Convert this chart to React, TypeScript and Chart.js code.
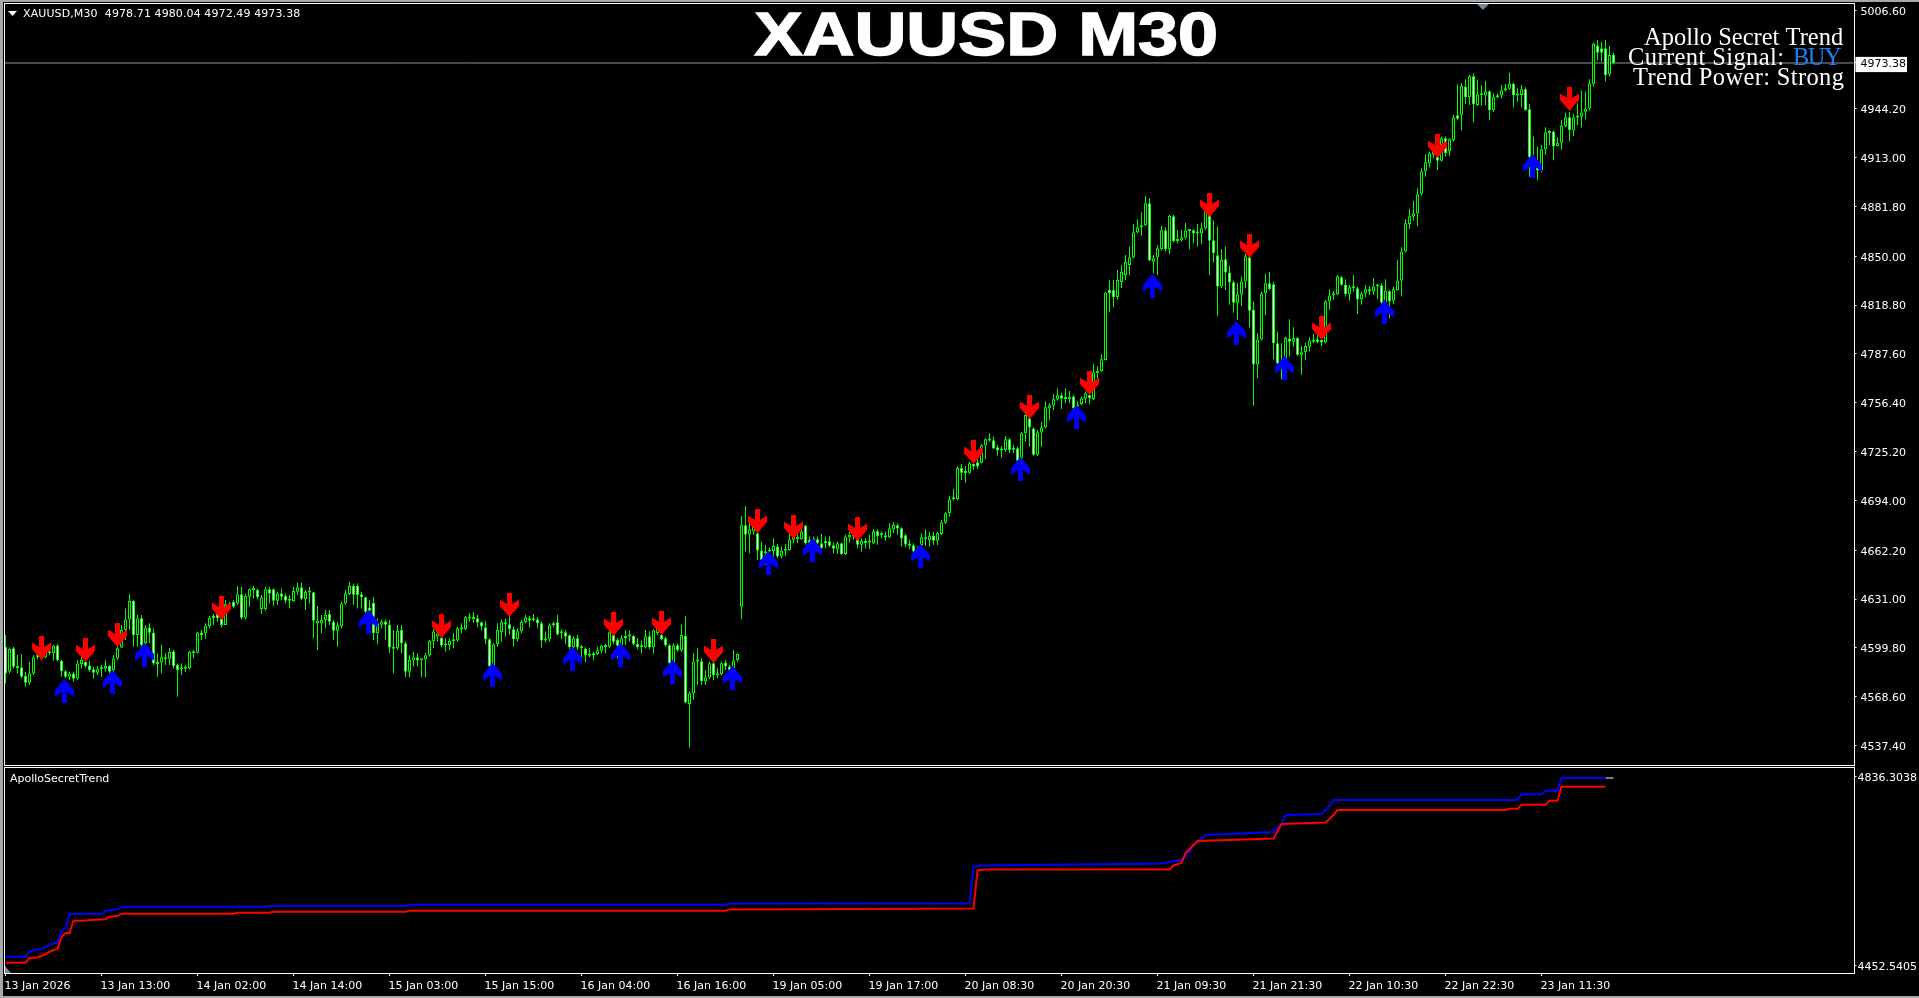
import React, { useEffect, useRef } from "react";
import { Chart, registerables } from "chart.js";

Chart.register(...registerables);

const highs = [
4608.0,4600.1,4600.6,4595.2,4595.9,4584.6,4591.0,4595.2,4596.3,4596.7,
4598.4,4599.5,4601.6,4602.3,4592.1,4585.7,4584.6,4584.6,4592.1,4594.2,
4592.1,4591.6,4587.8,4588.2,4588.9,4592.1,4588.9,4595.2,4601.6,4614.4,
4625.0,4634.2,4630.4,4620.8,4620.8,4614.4,4615.5,4612.3,4596.3,4601.6,
4596.3,4599.5,4598.4,4589.9,4589.9,4588.9,4598.0,4598.4,4610.1,4611.2,
4615.5,4620.2,4621.4,4622.9,4628.2,4630.4,4629.3,4630.4,4639.3,4638.9,
4634.2,4637.8,4639.3,4637.8,4633.6,4638.9,4638.9,4637.8,4635.7,4637.8,
4634.6,4633.6,4638.9,4641.4,4641.4,4636.8,4638.9,4635.7,4626.5,4620.8,
4624.0,4624.0,4617.6,4616.5,4629.3,4636.8,4642.1,4641.0,4641.0,4635.7,
4632.5,4630.4,4632.1,4618.7,4618.0,4618.0,4617.6,4611.2,4614.4,4614.4,
4603.8,4595.2,4597.4,4596.4,4592.5,4596.8,4604.9,4611.7,4611.3,4608.1,
4605.9,4605.9,4609.1,4613.4,4615.5,4620.2,4621.9,4622.8,4620.9,4616.6,
4616.6,4605.9,4602.8,4615.5,4618.1,4618.7,4619.8,4613.4,4612.3,4617.7,
4620.9,4620.2,4621.5,4619.4,4616.6,4610.2,4615.5,4616.6,4620.9,4611.7,
4611.3,4608.3,4607.0,4608.1,4601.7,4600.2,4599.6,4597.4,4600.6,4601.7,
4602.3,4615.5,4615.5,4605.9,4608.1,4611.3,4610.9,4608.1,4605.9,4604.5,
4611.3,4610.2,4611.7,4613.4,4614.5,4607.0,4602.3,4602.8,4602.3,4614.5,
4620.2,4571.9,4596.4,4599.6,4593.2,4585.7,4591.1,4591.1,4586.8,4591.1,
4592.1,4588.9,4598.5,4596.4,4684.1,4690.5,4682.6,4682.0,4674.1,4667.7,
4665.6,4664.1,4669.8,4666.2,4664.5,4666.2,4675.6,4674.1,4675.6,4675.6,
4678.3,4670.9,4670.9,4670.9,4672.6,4670.9,4671.3,4667.1,4667.7,4667.1,
4672.0,4674.1,4675.2,4670.9,4669.8,4669.8,4672.0,4675.6,4675.6,4674.1,
4674.1,4679.4,4680.0,4679.4,4676.9,4672.6,4668.8,4666.6,4664.5,4673.0,
4675.5,4674.0,4674.0,4674.0,4681.5,4686.8,4696.8,4701.3,4715.6,4717.3,
4716.0,4718.8,4719.8,4725.1,4730.0,4733.7,4736.9,4734.7,4729.4,4728.8,
4735.1,4733.7,4729.4,4728.3,4737.9,4750.7,4747.5,4740.7,4739.0,4744.3,
4757.1,4756.0,4762.0,4765.6,4762.8,4765.6,4763.9,4761.3,4757.1,4760.3,
4763.5,4764.5,4781.1,4779.9,4787.5,4827.3,4834.8,4834.8,4841.2,4844.4,
4850.8,4856.1,4870.6,4873.6,4878.0,4888.5,4887.0,4850.8,4857.2,4869.3,
4868.5,4876.3,4876.3,4866.8,4866.8,4871.4,4867.2,4867.2,4870.6,4871.4,
4880.6,4878.5,4872.7,4868.9,4854.6,4856.1,4843.8,4834.4,4832.7,4837.0,
4851.4,4850.2,4821.0,4800.8,4827.4,4838.7,4839.9,4833.8,4801.8,4794.4,
4798.6,4809.7,4804.6,4798.2,4792.7,4794.8,4798.2,4800.3,4799.7,4800.3,
4822.0,4828.9,4827.8,4838.0,4837.4,4835.3,4831.6,4838.0,4830.6,4827.4,
4831.6,4831.0,4835.9,4832.3,4832.7,4835.3,4828.4,4830.6,4847.6,4855.7,
4873.6,4880.2,4885.3,4893.4,4906.1,4915.1,4916.8,4921.0,4921.0,4926.4,
4926.4,4925.3,4940.2,4959.8,4960.4,4963.0,4965.8,4966.8,4962.6,4959.4,
4961.9,4955.8,4954.0,4954.0,4959.4,4960.0,4967.2,4960.9,4957.2,4959.4,
4957.9,4947.2,4926.4,4920.0,4921.0,4932.3,4930.6,4930.2,4925.9,4937.0,
4941.7,4942.3,4940.6,4947.7,4955.8,4955.1,4963.0,4986.4,4988.1,4987.0,
4988.1,4984.3,4980.04,
];

const lows = [
4577.2,4583.5,4586.7,4583.5,4580.3,4575.0,4576.1,4582.5,4592.5,4592.1,
4593.1,4595.2,4591.6,4591.0,4581.4,4580.3,4579.3,4578.2,4579.3,4586.7,
4586.7,4584.6,4580.3,4582.5,4581.4,4584.6,4583.5,4584.6,4592.1,4599.5,
4604.8,4611.2,4600.6,4600.6,4599.5,4601.6,4602.7,4588.9,4581.4,4583.5,
4588.9,4588.9,4586.7,4568.6,4582.5,4584.6,4586.1,4593.1,4596.3,4604.8,
4605.7,4612.3,4614.4,4616.5,4612.9,4614.4,4624.0,4625.0,4627.2,4618.0,
4618.0,4626.1,4631.4,4630.8,4621.4,4623.6,4628.2,4626.5,4627.2,4630.4,
4628.2,4625.0,4629.3,4633.6,4630.4,4624.0,4628.2,4605.9,4598.4,4609.1,
4612.3,4614.4,4604.8,4600.6,4612.3,4627.2,4633.6,4627.2,4625.0,4625.0,
4621.9,4617.6,4604.8,4602.3,4612.3,4604.8,4596.3,4583.5,4598.4,4596.3,
4581.0,4581.0,4587.9,4587.9,4581.0,4581.0,4594.2,4599.6,4603.8,4600.2,
4597.4,4598.5,4599.6,4603.8,4609.1,4611.3,4616.6,4615.9,4613.0,4610.9,
4602.3,4581.9,4581.9,4600.6,4603.8,4607.0,4608.1,4600.6,4603.8,4609.1,
4615.5,4613.0,4616.6,4612.3,4600.0,4603.2,4603.8,4613.0,4607.7,4605.3,
4602.3,4598.9,4598.5,4598.5,4593.8,4590.8,4593.8,4592.1,4595.3,4596.4,
4596.4,4599.6,4602.3,4593.2,4598.5,4601.7,4603.8,4601.1,4598.9,4596.4,
4599.6,4598.9,4596.4,4608.1,4604.5,4600.6,4583.6,4586.8,4597.4,4597.4,
4564.4,4536.1,4566.6,4576.1,4576.1,4576.1,4579.8,4579.3,4580.4,4582.5,
4585.7,4580.4,4582.5,4591.1,4618.1,4661.3,4660.2,4672.0,4656.0,4652.8,
4652.8,4658.1,4658.1,4657.1,4657.1,4658.5,4661.9,4666.6,4666.6,4668.8,
4665.6,4663.4,4664.5,4665.6,4661.3,4663.4,4664.1,4660.2,4659.8,4659.2,
4659.2,4667.1,4668.8,4663.4,4661.3,4663.4,4662.8,4666.2,4665.6,4669.8,
4668.3,4669.8,4673.0,4672.0,4664.5,4664.1,4662.8,4660.2,4658.1,4664.5,
4664.9,4664.5,4665.5,4665.5,4671.9,4678.9,4683.6,4693.9,4693.9,4707.0,
4705.3,4710.9,4713.4,4714.1,4717.7,4720.5,4731.5,4726.6,4722.6,4721.3,
4725.1,4724.5,4724.1,4718.8,4719.8,4731.5,4728.3,4722.4,4722.4,4728.3,
4740.0,4745.4,4751.8,4757.7,4752.4,4756.0,4756.0,4748.6,4750.7,4755.0,
4756.0,4755.6,4758.2,4772.0,4776.2,4783.3,4814.4,4817.5,4822.0,4829.7,
4834.8,4838.0,4848.7,4864.6,4862.9,4869.3,4846.7,4839.1,4838.0,4853.6,
4852.9,4851.4,4858.7,4858.2,4859.3,4860.8,4854.4,4858.2,4856.1,4857.8,
4866.8,4838.0,4845.9,4811.8,4829.5,4828.4,4818.9,4813.9,4809.3,4818.2,
4829.5,4804.4,4754.4,4771.8,4796.1,4812.5,4828.4,4784.2,4781.2,4771.4,
4777.3,4785.9,4792.2,4786.3,4774.2,4783.7,4789.1,4794.4,4794.4,4792.7,
4794.4,4815.7,4822.0,4825.2,4831.0,4824.2,4821.6,4827.4,4813.1,4818.9,
4823.8,4825.2,4825.2,4822.5,4818.9,4815.7,4810.3,4819.5,4828.0,4824.2,
4852.3,4867.4,4872.7,4868.9,4888.7,4900.8,4906.6,4912.5,4905.1,4910.4,
4913.6,4914.0,4923.2,4937.0,4930.2,4947.2,4946.6,4935.3,4946.0,4946.0,
4946.6,4937.0,4942.3,4950.9,4950.9,4955.1,4956.2,4944.9,4948.7,4944.9,
4942.8,4900.8,4906.1,4898.7,4903.4,4914.7,4921.0,4911.5,4920.0,4917.9,
4932.3,4923.2,4926.8,4933.8,4932.1,4937.4,4943.4,4958.3,4974.9,4974.3,
4961.5,4964.7,4972.49,
];

const opens = [
4600.6,4584.6,4599.5,4586.9,4587.4,4581.8,4577.6,4583.5,4595.2,4595.2,
4593.8,4596.3,4596.3,4601.4,4591.6,4584.8,4581.4,4583.5,4580.3,4589.5,
4591.0,4588.6,4586.1,4584.0,4586.1,4586.5,4588.2,4585.7,4593.1,4600.1,
4611.2,4618.0,4629.7,4608.0,4618.7,4602.7,4612.9,4609.5,4591.0,4590.4,
4593.8,4592.9,4597.6,4588.9,4586.1,4586.5,4586.7,4596.3,4596.7,4609.7,
4609.1,4613.8,4620.2,4621.9,4618.7,4614.4,4626.8,4629.1,4628.2,4634.0,
4619.1,4632.5,4636.8,4636.8,4624.6,4624.4,4637.2,4637.2,4629.9,4634.6,
4632.9,4629.9,4629.7,4635.7,4638.5,4631.0,4635.1,4635.3,4615.5,4615.5,
4617.6,4621.4,4616.5,4610.8,4613.4,4628.2,4634.2,4639.3,4639.3,4634.0,
4632.1,4625.5,4628.7,4609.1,4614.6,4616.7,4614.6,4599.3,4599.5,4611.2,
4602.7,4584.6,4591.7,4593.8,4591.9,4592.5,4595.1,4604.0,4607.0,4606.4,
4602.3,4601.7,4604.0,4604.5,4611.7,4611.7,4618.5,4618.3,4618.7,4616.2,
4613.0,4605.3,4587.9,4602.3,4610.0,4616.2,4614.9,4611.7,4605.3,4610.4,
4616.2,4618.7,4617.5,4618.1,4615.5,4604.5,4605.3,4614.3,4616.2,4609.1,
4609.8,4607.9,4600.2,4605.9,4599.6,4599.4,4594.7,4596.4,4595.9,4597.9,
4600.4,4600.6,4608.1,4604.9,4601.1,4607.4,4607.0,4607.4,4602.3,4600.2,
4600.2,4607.2,4600.2,4609.1,4608.1,4605.9,4601.5,4590.0,4601.5,4598.1,
4607.4,4564.0,4570.8,4591.1,4591.3,4578.3,4581.0,4590.0,4582.1,4583.2,
4590.4,4587.9,4586.8,4592.1,4626.2,4678.1,4672.2,4674.1,4673.0,4662.0,
4660.2,4661.3,4661.7,4664.5,4658.1,4661.9,4662.4,4668.8,4669.4,4669.2,
4677.9,4668.8,4668.1,4669.2,4666.6,4668.1,4667.9,4665.4,4662.8,4666.6,
4659.8,4670.3,4670.9,4669.2,4665.6,4668.1,4667.1,4666.6,4674.3,4671.7,
4671.7,4670.3,4675.6,4678.1,4676.2,4671.7,4665.1,4665.4,4659.2,4665.5,
4669.2,4668.7,4671.5,4668.3,4672.6,4679.8,4685.8,4694.7,4694.9,4714.7,
4711.5,4711.7,4717.3,4718.3,4718.1,4729.0,4732.2,4732.4,4727.9,4725.8,
4726.2,4733.0,4726.4,4727.3,4720.9,4736.9,4746.4,4740.0,4723.2,4737.3,
4740.5,4752.8,4754.5,4758.4,4761.1,4758.8,4758.8,4760.3,4753.9,4755.6,
4759.0,4761.3,4758.8,4775.2,4776.7,4783.7,4828.4,4828.4,4823.9,4833.5,
4838.0,4844.4,4849.1,4865.3,4868.3,4869.7,4883.8,4846.5,4849.1,4854.4,
4866.6,4854.4,4875.5,4859.7,4860.0,4861.9,4866.1,4866.6,4864.4,4864.4,
4867.8,4876.3,4860.2,4850.6,4830.6,4848.0,4839.5,4833.3,4820.3,4825.5,
4833.8,4849.3,4815.7,4780.8,4796.7,4826.3,4832.7,4832.1,4794.4,4781.6,
4782.7,4797.4,4795.4,4797.8,4787.1,4788.6,4792.2,4795.4,4796.9,4796.5,
4794.8,4821.0,4824.8,4825.9,4836.5,4831.8,4825.9,4829.5,4829.5,4822.5,
4826.1,4828.9,4827.4,4830.6,4831.4,4820.3,4827.6,4821.6,4828.4,4834.4,
4852.9,4870.6,4875.3,4877.2,4889.8,4904.2,4909.3,4914.7,4913.6,4911.0,
4925.3,4916.8,4924.2,4940.0,4940.0,4958.3,4951.5,4964.9,4946.6,4952.8,
4952.6,4955.3,4943.4,4951.5,4952.6,4955.8,4957.0,4960.2,4952.6,4953.0,
4956.6,4943.8,4909.3,4908.7,4904.7,4918.3,4928.7,4929.6,4920.4,4922.5,
4933.2,4938.7,4930.2,4938.5,4939.1,4942.3,4944.3,4960.2,4984.5,4982.8,
4982.8,4966.0,4978.71,
];

const closes = [
4583.5,4599.3,4587.8,4588.2,4581.4,4577.6,4583.5,4593.8,4593.8,4593.1,
4596.3,4597.2,4601.4,4592.1,4584.8,4581.4,4583.5,4580.1,4589.9,4592.1,
4588.2,4585.7,4584.0,4586.1,4586.9,4588.2,4584.6,4593.1,4599.5,4611.2,
4618.0,4629.7,4608.0,4618.7,4601.6,4612.9,4609.5,4589.9,4589.5,4593.8,
4592.5,4597.2,4588.2,4585.7,4587.4,4587.4,4597.2,4597.2,4609.7,4608.0,
4614.0,4619.1,4618.7,4618.7,4614.4,4627.6,4627.6,4626.1,4634.0,4619.1,
4632.9,4637.2,4637.2,4632.1,4632.1,4637.2,4634.6,4629.9,4634.6,4632.5,
4629.9,4630.4,4636.1,4638.5,4631.2,4635.5,4635.7,4617.2,4617.2,4617.6,
4621.0,4616.5,4610.8,4614.2,4628.2,4634.6,4639.3,4633.8,4633.6,4632.1,
4622.9,4623.6,4609.1,4615.5,4616.7,4614.6,4600.1,4600.1,4610.8,4602.7,
4584.6,4592.1,4593.8,4591.7,4592.5,4595.1,4604.3,4610.2,4609.1,4601.3,
4601.3,4604.3,4604.9,4612.3,4612.3,4619.4,4619.4,4618.9,4616.0,4613.4,
4605.3,4587.9,4601.9,4611.3,4616.2,4614.9,4611.7,4605.3,4610.4,4616.4,
4619.4,4617.2,4618.1,4615.5,4604.5,4605.3,4614.3,4615.1,4608.3,4610.0,
4607.0,4600.2,4605.9,4600.0,4600.2,4595.1,4595.3,4594.9,4598.3,4601.1,
4601.1,4609.8,4603.8,4601.1,4605.9,4605.9,4607.4,4602.3,4600.2,4600.8,
4607.2,4600.0,4611.1,4612.3,4605.5,4601.5,4590.0,4601.5,4598.5,4608.1,
4564.9,4570.8,4591.1,4592.1,4578.5,4581.0,4590.0,4582.3,4583.6,4590.0,
4587.9,4585.7,4591.7,4595.9,4678.1,4672.0,4675.6,4678.3,4662.0,4656.0,
4661.3,4661.9,4664.9,4658.1,4661.9,4662.8,4669.2,4671.9,4670.0,4674.1,
4666.6,4665.6,4668.8,4666.6,4663.4,4666.4,4665.1,4663.2,4666.6,4659.8,
4670.9,4672.0,4673.0,4665.6,4668.1,4666.6,4667.7,4674.3,4671.3,4672.4,
4670.3,4676.2,4678.3,4676.0,4669.6,4665.8,4666.2,4661.3,4662.4,4670.4,
4670.4,4671.5,4668.3,4673.0,4680.0,4685.8,4694.7,4695.3,4714.7,4711.7,
4712.2,4717.7,4715.6,4715.6,4729.2,4733.0,4733.0,4727.1,4725.8,4726.6,
4733.0,4726.2,4727.3,4719.4,4736.9,4748.6,4740.5,4723.2,4737.5,4740.7,
4753.5,4754.7,4758.6,4761.1,4759.0,4759.4,4760.3,4752.8,4755.0,4759.2,
4762.4,4759.2,4775.8,4776.7,4784.1,4826.7,4826.5,4823.9,4834.8,4839.9,
4846.3,4849.3,4865.3,4868.5,4869.7,4883.8,4847.2,4848.7,4855.1,4866.6,
4854.4,4875.7,4859.7,4860.4,4862.1,4866.6,4866.8,4864.4,4864.8,4867.8,
4878.5,4859.9,4851.9,4830.6,4847.6,4839.5,4833.1,4820.3,4825.7,4833.8,
4849.9,4815.2,4780.8,4796.7,4826.3,4832.7,4829.1,4794.4,4781.6,4777.3,
4797.8,4795.4,4797.8,4787.1,4788.6,4792.7,4796.3,4796.5,4795.2,4794.8,
4821.2,4824.8,4826.3,4837.2,4831.8,4825.9,4830.1,4830.1,4822.3,4826.1,
4828.9,4827.4,4830.6,4831.6,4820.3,4828.0,4821.0,4828.9,4834.4,4852.9,
4871.0,4875.5,4877.4,4889.5,4904.2,4910.0,4915.7,4918.9,4911.0,4925.3,
4915.7,4924.7,4938.7,4937.7,4958.7,4951.5,4964.9,4947.0,4953.4,4953.4,
4955.3,4943.2,4951.5,4952.8,4956.0,4957.2,4960.2,4952.8,4953.4,4956.6,
4943.4,4913.2,4913.6,4904.7,4918.3,4929.1,4929.4,4920.0,4922.5,4933.4,
4938.7,4930.6,4938.7,4939.4,4941.7,4944.3,4960.4,4985.6,4980.0,4980.0,
4965.5,4978.5,4973.38,
];

const sellIndexes = [9,20,28,54,109,126,152,164,177,188,197,213,242,256,271,301,311,329,358,391];
const sellPrices = [4599.9,4598.3,4608.2,4625.1,4613.6,4627.0,4614.9,4615.5,4598.0,4680.7,4676.8,4675.9,4724.7,4753.5,4768.8,4882.9,4856.3,4803.9,4920.2,4950.2];
const buyIndexes = [15,27,35,91,122,142,154,167,182,191,202,229,254,268,287,308,320,345,382];
const buyPrices = [4572.3,4578.2,4595.3,4616.6,4582.3,4592.7,4595.3,4584.6,4580.6,4653.9,4662.3,4658.5,4714.1,4747.3,4831.2,4801.1,4778.8,4814.5,4907.8];

const blueIndexes = [0,5,6,7,9,10,11,13,14,15,16,24,25,28,29,65,66,100,101,180,181,241,242,244,289,294,296,297,299,300,317,319,320,329,331,332,378,379,384,385,388,389,400];
const blueValues = [4470.8,4470.8,4480.4,4484.4,4486.4,4489.9,4496.0,4499.2,4523.6,4528.5,4557.5,4557.5,4563.0,4567.0,4572.3,4572.3,4573.7,4573.7,4576.4,4576.4,4578.6,4578.6,4653.0,4656.0,4660.0,4667.1,4683.4,4697.6,4711.8,4717.9,4724.0,4740.2,4758.5,4760.5,4776.8,4789.0,4789.0,4800.5,4800.5,4807.8,4807.8,4833.6,4833.6];
const redIndexes = [0,5,6,8,9,10,11,12,13,14,15,16,17,20,21,25,26,28,29,57,58,66,67,100,101,180,181,242,243,245,291,292,294,295,297,298,317,319,330,332,333,375,376,378,379,385,386,388,389,400];
const redValues = [4458.6,4458.6,4468.1,4469.2,4472.2,4476.3,4480.4,4484.4,4486.4,4511.4,4518.9,4518.9,4543.9,4543.9,4545.3,4546.7,4552.0,4553.4,4558.1,4558.1,4560.1,4560.1,4562.1,4562.1,4564.2,4564.2,4566.6,4568.6,4645.9,4647.9,4647.9,4656.0,4661.0,4681.3,4697.6,4705.7,4710.8,4740.2,4743.3,4758.5,4768.7,4768.7,4771.3,4771.3,4779.4,4779.4,4787.5,4787.5,4816.0,4816.0];

const priceTicks = [5006.6,4973.38,4944.2,4913.0,4881.8,4850.0,4818.8,4787.6,4756.4,4725.2,4694.0,4662.2,4631.0,4599.8,4568.6,4537.4];
const currentPrice = 4973.38;
const indicatorTicks = [4836.3038,4452.5405];
const timeTickIndexes = [0,24,48,72,96,120,144,168,192,216,240,264,288,312,336,360,384];
const timeLabels = ["13 Jan 2026","13 Jan 13:00","14 Jan 02:00","14 Jan 14:00","15 Jan 03:00","15 Jan 15:00","16 Jan 04:00","16 Jan 16:00","19 Jan 05:00","19 Jan 17:00","20 Jan 08:30","20 Jan 20:30","21 Jan 09:30","21 Jan 21:30","22 Jan 10:30","22 Jan 22:30","23 Jan 11:30"];

const GREEN = "#00ff00";
const FONT = "DejaVu Sans";
const SERIF = "Liberation Serif";

function makeArrow(color: string, down: boolean, extra: number) {
  const c = document.createElement("canvas");
  c.width = 19 + extra;
  c.height = 24;
  const g = c.getContext("2d")!;
  g.fillStyle = color;
  const pts = [[7,0],[12,0],[12,11],[19,6.5],[19,13],[9.5,24],[0,13],[0,6.5],[7,11]];
  g.beginPath();
  pts.forEach(([x, y], i) => {
    const py = down ? y : 24 - y;
    if (i) g.lineTo(x, py); else g.moveTo(x, py);
  });
  g.closePath();
  g.fill();
  return c;
}

const clearPadding = (s: any) => {
  s.paddingLeft = 0;
  s.paddingRight = 0;
  s.paddingTop = 0;
  s.paddingBottom = 0;
};

const xBase = {
  type: "linear" as const, min: 0, max: 462, offset: false,
  grid: { display: false, offset: false }, border: { display: false },
  afterFit: clearPadding,
};

function yAxis(min: number, max: number, ticksList: number[], digits: number, pad: number, nudge: number) {
  return {
    type: "linear" as const, position: "right" as const, min, max,
    afterFit: (s: any) => { s.width = 65.5; clearPadding(s); },
    afterBuildTicks: (s: any) => { s.ticks = ticksList.map((value) => ({ value })); },
    grid: { drawOnChartArea: false, drawTicks: true, tickLength: 3, color: "#ffffff", tickColor: "#ffffff" },
    border: { display: false },
    ticks: {
      autoSkip: false, crossAlign: "near" as const, padding: pad, labelOffset: nudge,
      font: { family: FONT, size: 11 },
      color: (c: any) => (c.tick.value === currentPrice ? "#000000" : "#ffffff"),
      showLabelBackdrop: (c: any) => c.tick.value === currentPrice,
      backdropColor: "#ffffff",
      backdropPadding: { left: 5, right: 1, top: 1, bottom: 1 },
      callback: (v: any) => Number(v).toFixed(digits),
    },
  };
}

const mainOverlay = {
  id: "mainOverlay",
  beforeDatasetsDraw(chart: any) { chart.ctx.imageSmoothingEnabled = false; },
  afterDraw(chart: any) {
    const ctx = chart.ctx;
    ctx.save();
    ctx.strokeStyle = "#ffffff";
    ctx.lineWidth = 1;
    ctx.strokeRect(4.5, 3.5, 1850, 762);
    ctx.fillStyle = "#778899";
    ctx.beginPath(); ctx.moveTo(1477, 4); ctx.lineTo(1489, 4); ctx.lineTo(1483, 10); ctx.closePath(); ctx.fill();
    ctx.fillStyle = "#ffffff";
    ctx.beginPath(); ctx.moveTo(8, 11); ctx.lineTo(17, 11); ctx.lineTo(12.5, 16); ctx.closePath(); ctx.fill();
    ctx.textBaseline = "alphabetic";
    ctx.font = `11px ${FONT}`;
    ctx.textAlign = "left";
    ctx.letterSpacing = "0.1px";
    ctx.fillText("XAUUSD,M30  4978.71 4980.04 4972.49 4973.38", 23, 17);
    ctx.letterSpacing = "0px";
    ctx.save();
    ctx.font = "bold 62px 'Liberation Sans'";
    ctx.translate(754.5, 55);
    ctx.scale(1.16, 1);
    ctx.lineWidth = 1.5;
    ctx.strokeStyle = "#ffffff";
    ctx.fillText("XAUUSD M30", 0, 0);
    ctx.strokeText("XAUUSD M30", 0, 0);
    ctx.restore();
    ctx.font = `24.5px '${SERIF}'`;
    ctx.fillStyle = "#ffffff";
    ctx.textAlign = "left";
    ctx.fillText("Apollo Secret Trend", 1644, 45);
    ctx.letterSpacing = "0.35px";
    ctx.fillText("Trend Power: Strong", 1633, 85);
    ctx.letterSpacing = "0.4px";
    ctx.fillText("Current Signal:", 1628, 65);
    ctx.letterSpacing = "-1.5px";
    ctx.fillStyle = "#1e7fe8";
    ctx.fillText("BUY", 1793, 65);
    ctx.letterSpacing = "0px";
    ctx.restore();
  },
};

const lowerOverlay = {
  id: "lowerOverlay",
  afterDraw(chart: any) {
    const ctx = chart.ctx;
    ctx.save();
    ctx.strokeStyle = "#ffffff";
    ctx.lineWidth = 1;
    ctx.strokeRect(4.5, 1.5, 1850, 206);
    ctx.fillStyle = "#778899";
    ctx.beginPath(); ctx.moveTo(5, 200); ctx.lineTo(11, 207); ctx.lineTo(5, 207); ctx.closePath(); ctx.fill();
    ctx.fillStyle = "#ffffff";
    ctx.font = `11px ${FONT}`;
    ctx.textAlign = "left";
    ctx.textBaseline = "alphabetic";
    ctx.fillText("ApolloSecretTrend", 10, 16);
    ctx.restore();
  },
};

export default function App() {
  const mainRef = useRef<HTMLCanvasElement>(null);
  const lowerRef = useRef<HTMLCanvasElement>(null);

  useEffect(() => {
    document.body.style.margin = "0";
    document.body.style.overflow = "hidden";
    const wicks = highs.map((h, i) => ({ x: i, y: [lows[i], h] }));
    const bodies = opens.map((o, i) => ({ x: i, y: [o, closes[i]] }));
    const fills = opens.map((o, i) => (closes[i] < o ? "#ffffff" : "#000000"));

    const main = new Chart(mainRef.current!, {
      type: "bar",
      data: {
        datasets: [
          {
            type: "line", data: [{ x: -0.3, y: currentPrice }, { x: 462, y: currentPrice }],
            borderColor: "#8c96a3", borderWidth: 1, pointRadius: 0, clip: false, order: 6,
          },
          {
            type: "bar", data: wicks, grouped: false, barThickness: 1, minBarLength: 1, inflateAmount: 0,
            backgroundColor: GREEN, borderWidth: 0, clip: false, order: 5,
          },
          {
            type: "bar", data: bodies, grouped: false, barThickness: 3, minBarLength: 2, inflateAmount: 0,
            backgroundColor: fills, borderColor: GREEN, borderWidth: 1, borderSkipped: false, clip: false, order: 4,
          },
          {
            type: "scatter", data: sellIndexes.map((x, i) => ({ x, y: sellPrices[i] })),
            pointStyle: makeArrow("#ff0000", true, 0), pointRadius: 10, order: 2,
          },
          {
            type: "scatter", data: buyIndexes.map((x, i) => ({ x, y: buyPrices[i] })),
            pointStyle: makeArrow("#0000ff", false, 2), pointRadius: 10, order: 1,
          },
        ] as any,
      },
      options: {
        animation: false, responsive: false, events: [],
        layout: { autoPadding: false, padding: { left: 5.5, top: 3, bottom: 1, right: 0 } },
        plugins: { legend: { display: false }, tooltip: { enabled: false } },
        scales: {
          x: { ...xBase, display: false },
          y: yAxis(4525.0, 5011.7, priceTicks, 2, 4, 1.5),
        },
      } as any,
      plugins: [mainOverlay],
    });

    const lower = new Chart(lowerRef.current!, {
      type: "line",
      data: {
        datasets: [
          {
            data: redIndexes.map((x, i) => ({ x, y: redValues[i] })),
            borderColor: "#ff0000", borderWidth: 2, pointRadius: 0, tension: 0,
          },
          {
            data: blueIndexes.map((x, i) => ({ x, y: blueValues[i] })),
            borderColor: "#0000ff", borderWidth: 2, pointRadius: 0, tension: 0,
          },
          {
            data: [{ x: 400, y: blueValues[blueValues.length - 1] }, { x: 402, y: blueValues[blueValues.length - 1] }],
            borderColor: "#ffffff", borderWidth: 1, pointRadius: 0,
          },
        ],
      },
      options: {
        animation: false, responsive: false, events: [],
        layout: { autoPadding: false, padding: { left: 5.5, top: 2, bottom: 0, right: 0 } },
        plugins: { legend: { display: false }, tooltip: { enabled: false } },
        scales: {
          x: {
            ...xBase,
            afterFit: (s: any) => { s.height = 25; clearPadding(s); },
            afterBuildTicks: (s: any) => { s.ticks = timeTickIndexes.map((value) => ({ value })); },
            grid: { display: true, drawOnChartArea: false, drawTicks: true, tickLength: 3, tickColor: "#ffffff", offset: false },
            ticks: {
              autoSkip: false, maxRotation: 0, minRotation: 0, align: "start", padding: 4, labelOffset: -1,
              color: "#ffffff", font: { family: FONT, size: 11 },
              callback: (v: any) => timeLabels[timeTickIndexes.indexOf(Number(v))],
            },
          },
          y: yAxis(4437.7, 4853.9, indicatorTicks, 4, 1, 1),
        },
      } as any,
      plugins: [lowerOverlay],
    });

    return () => {
      main.destroy();
      lower.destroy();
    };
  }, []);

  return (
    <div style={{ position: "fixed", left: 0, top: 0, width: 1919, height: 998, background: "#a8a8a8", overflow: "hidden" }}>
      <div style={{ position: "absolute", left: 3, top: 2, width: 1916, height: 994, background: "#000000" }} />
      <canvas ref={mainRef} width={1919} height={766} style={{ position: "absolute", left: 0, top: 0, width: 1919, height: 766 }} />
      <canvas ref={lowerRef} width={1919} height={232} style={{ position: "absolute", left: 0, top: 766, width: 1919, height: 232 }} />
    </div>
  );
}
